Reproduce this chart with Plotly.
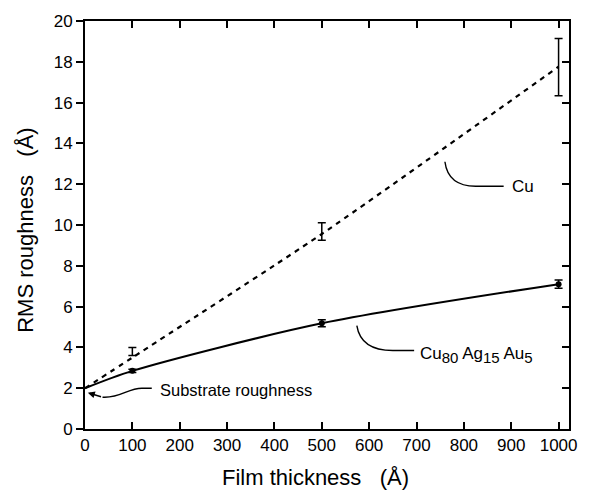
import plotly.graph_objects as go

# ---- data ----
thickness = [100, 500, 1000]
cu_rms = [3.8, 9.68, 17.74]
cu_err = [0.2, 0.43, 1.4]
alloy_rms = [2.85, 5.18, 7.1]
alloy_err = [0.08, 0.17, 0.2]

cu_fit_x = [0, 100, 500, 1000]
cu_fit_y = [2.0, 3.5, 9.56, 17.76]
alloy_fit_x = [0, 100, 500, 1000]
alloy_fit_y = [2.0, 2.85, 5.18, 7.1]

x_ticks = [0, 100, 200, 300, 400, 500, 600, 700, 800, 900, 1000]
y_ticks = [0, 2, 4, 6, 8, 10, 12, 14, 16, 18, 20]

FONT = "Liberation Sans, Arial, Helvetica, sans-serif"

fig = go.Figure()

fig.add_trace(go.Scatter(x=cu_fit_x, y=cu_fit_y, mode="lines",
                         line=dict(color="black", width=2.2, dash="5px,5px", shape="spline", smoothing=0.6),
                         showlegend=False, hoverinfo="skip"))
fig.add_trace(go.Scatter(x=alloy_fit_x, y=alloy_fit_y, mode="lines",
                         line=dict(color="black", width=2, shape="spline", smoothing=0.8),
                         showlegend=False, hoverinfo="skip"))
fig.add_trace(go.Scatter(x=thickness, y=cu_rms, mode="markers",
                         marker=dict(size=1, color="rgba(0,0,0,0)"),
                         error_y=dict(type="data", array=cu_err, color="black", thickness=1.5, width=4),
                         showlegend=False))
fig.add_trace(go.Scatter(x=thickness, y=alloy_rms, mode="markers",
                         marker=dict(size=6, color="black"),
                         error_y=dict(type="data", array=alloy_err, color="black", thickness=1.5, width=4),
                         showlegend=False))
# invisible trace for right axis
fig.add_trace(go.Scatter(x=[0], y=[0], yaxis="y2", mode="markers",
                         marker=dict(size=1, color="rgba(0,0,0,0)"), showlegend=False, hoverinfo="skip"))

# leader lines
fig.add_shape(type="path", xref="x", yref="y",
              path="M 760,13.1 C 765,12.2 790,11.9 825,11.9 L 884,11.9",
              line=dict(color="black", width=1.4))
fig.add_shape(type="path", xref="x", yref="y",
              path="M 574,5.07 C 580,4.2 610,3.85 650,3.85 L 695,3.85",
              line=dict(color="black", width=1.4))
fig.add_shape(type="path", xref="x", yref="y",
              path="M 141,2.0 L 120,2.0 C 90,2.0 75,1.5 37,1.56",
              line=dict(color="black", width=1.4))

SUB = '<sub><span style="font-size:15px">{}</span></sub>'
alloy_label = "Cu" + SUB.format("80") + " Ag" + SUB.format("15") + " Au" + SUB.format("5")

annotations = [
    dict(x=6, y=1.78, ax=37, ay=1.56, xref="x", yref="y", axref="x", ayref="y",
         text="", showarrow=True, arrowhead=2, arrowsize=1, arrowwidth=1.4, arrowcolor="black"),
    dict(x=898, y=11.9, xref="x", yref="y", text="Cu", showarrow=False,
         xanchor="left", yanchor="middle", font=dict(size=17, color="black", family=FONT)),
    dict(x=703, y=3.65, xref="x", yref="y",
         text=alloy_label, showarrow=False,
         xanchor="left", yanchor="middle", font=dict(size=17, color="black", family=FONT)),
    dict(x=154, y=1.9, xref="x", yref="y", text="Substrate roughness", showarrow=False,
         xanchor="left", yanchor="middle", font=dict(size=16.5, color="black", family=FONT)),
    dict(x=0.476, y=-0.118, xref="paper", yref="paper",
         text="Film thickness\u00a0\u00a0\u00a0(Å)", showarrow=False,
         xanchor="center", yanchor="middle", font=dict(size=22, color="black", family=FONT)),
    dict(x=-0.123, y=0.487, xref="paper", yref="paper",
         text="RMS roughness\u00a0\u00a0\u00a0(Å)", showarrow=False, textangle=-90,
         xanchor="center", yanchor="middle", font=dict(size=22, color="black", family=FONT)),
]

fig.update_layout(
    width=589, height=494,
    margin=dict(l=85, r=13, t=19, b=65),
    paper_bgcolor="white", plot_bgcolor="white",
    font=dict(family=FONT, color="black", size=17),
    annotations=annotations,
    xaxis=dict(range=[0, 1022], tickvals=x_ticks, ticktext=[str(v) for v in x_ticks],
               ticks="inside", ticklen=7, tickwidth=1.5, tickcolor="black",
               showline=True, linecolor="black", linewidth=1.5, mirror="ticks",
               showgrid=False, zeroline=False, tickfont=dict(size=17)),
    yaxis=dict(range=[0, 20], tickvals=y_ticks, ticktext=[str(v) for v in y_ticks],
               ticks="outside", ticklen=7, tickwidth=1.5, tickcolor="black",
               showline=True, linecolor="black", linewidth=1.8, mirror=True,
               showgrid=False, zeroline=False, tickfont=dict(size=17)),
    yaxis2=dict(range=[0, 20], overlaying="y", side="right", tickvals=y_ticks,
                ticks="inside", ticklen=7, tickwidth=1.5, tickcolor="black",
                showticklabels=False, showline=True, linecolor="black", linewidth=1.5,
                showgrid=False, zeroline=False),
)

fig.write_html("out.html")
